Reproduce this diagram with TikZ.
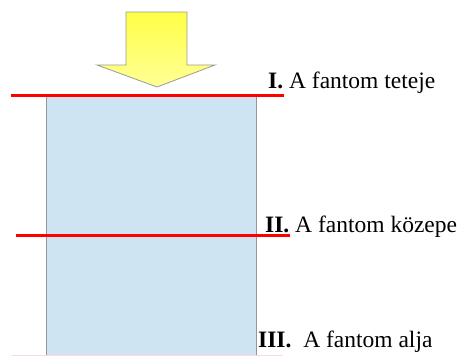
\documentclass[tikz,border=0pt]{standalone}
\usepackage{fontspec}
\setmainfont{Liberation Serif}
\definecolor{phantom}{RGB}{207,228,243}
\definecolor{phantomedge}{RGB}{150,150,150}
\definecolor{cutline}{RGB}{255,0,0}
\definecolor{arrowtop}{RGB}{255,255,70}
\definecolor{arrowbot}{RGB}{255,255,150}
\tikzset{
  cut/.style={draw=cutline, line width=2.6pt},
  label/.style={anchor=base west, inner sep=0pt, font=\fontsize{23.5}{26}\selectfont},
}
\begin{document}
\begin{tikzpicture}[x=1pt,y=-1pt]
\useasboundingbox (0,0) rectangle (466,356);
% phantom body
\fill[phantom] (46.5,97) rectangle (256.5,358);
\draw[phantomedge, line width=1.3pt] (46.5,97) -- (46.5,358) (256.5,97) -- (256.5,358);
% arrow
\shade[top color=arrowtop, bottom color=arrowbot, draw=gray!80, line width=0.8pt]
  (126,12) -- (187,12) -- (187,65) -- (215,65) -- (157,87) -- (97,65) -- (126,65) -- cycle;
% cut lines
\coordinate (l1a) at (11,95.7); \coordinate (l1b) at (284,95.7);
\coordinate (l2a) at (16,235.7); \coordinate (l2b) at (290,235.7);
\coordinate (l3a) at (12,355.5); \coordinate (l3b) at (283,355.5);
\draw[cut] (l1a) -- (l1b);
\draw[cut] (l2a) -- (l2b);
\draw[draw=cutline!15, line width=1pt] (l3a) -- (l3b);
% labels
\node[label] (t1) at (268,88) {\textbf{I.} A fantom teteje};
\node[label] (t2) at (265,232) {\textbf{II.} A fantom közepe};
\node[label] (t3) at (258,347) {\textbf{III.}\ \ A fantom alja};
\end{tikzpicture}
\end{document}
